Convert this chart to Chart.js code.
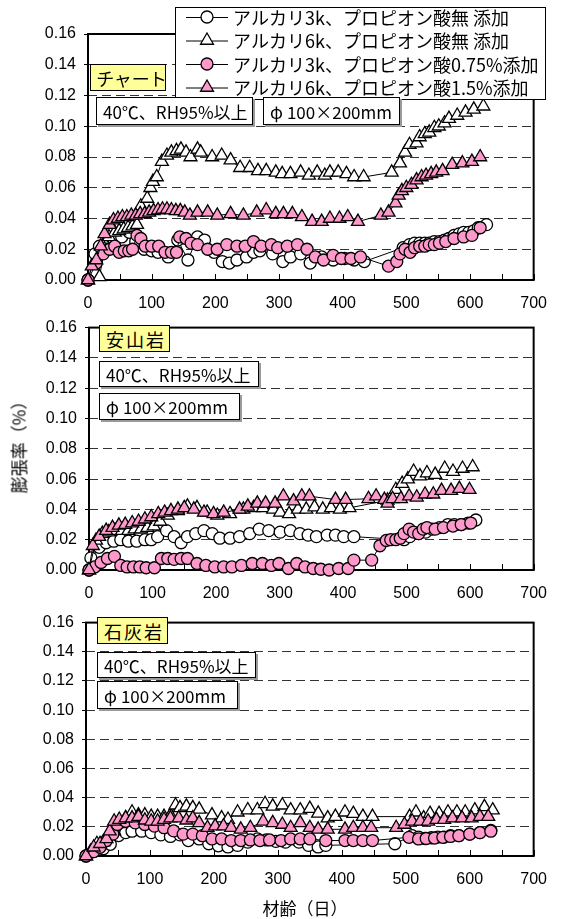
<!DOCTYPE html>
<html><head><meta charset="utf-8">
<script src="https://cdn.jsdelivr.net/npm/chart.js@4.4.1/dist/chart.umd.min.js"></script>
<style>
html,body{margin:0;padding:0;background:#fff;}
#wrap{position:relative;width:561px;height:919px;overflow:hidden;background:#fff;}
canvas{position:absolute;left:0;}
.box{position:absolute;background:#fff;border:1px solid #000;box-shadow:2px 2px 0 #9a9a9a;font-family:'Noto Sans CJK JP',sans-serif;font-size:17px;line-height:1;display:flex;align-items:center;padding-left:6px;box-sizing:border-box;white-space:nowrap;color:#000;}
.ybox{background:#ffff99;font-size:18px;letter-spacing:2px;font-feature-settings:"palt";box-shadow:none;border-width:1.5px;}
.phi{margin-right:4px;font-family:'Noto Sans CJK JP',sans-serif;}
.title{position:absolute;font-family:'Noto Sans CJK JP',sans-serif;font-size:17px;white-space:nowrap;line-height:1;color:#000;}
</style></head>
<body><div id="wrap">
<canvas id="c1" width="561" height="310" style="top:0px"></canvas>
<canvas id="c2" width="561" height="295" style="top:310px"></canvas>
<canvas id="c3" width="561" height="314" style="top:605px"></canvas>

<div class="box ybox" style="left:90px;top:64px;width:76px;height:27px;">チャート</div>
<div class="box" style="left:96px;top:97px;width:157px;height:28px;">40℃、RH95%以上</div>
<div class="box" style="left:263px;top:97px;width:137px;height:28px;"><span class="phi">φ</span>100×200mm</div>

<div class="box ybox" style="left:99px;top:325px;width:71px;height:27px;">安山岩</div>
<div class="box" style="left:99px;top:361px;width:160px;height:26px;">40℃、RH95%以上</div>
<div class="box" style="left:99px;top:393px;width:141px;height:27px;"><span class="phi">φ</span>100×200mm</div>

<div class="box ybox" style="left:97px;top:617px;width:71px;height:27px;">石灰岩</div>
<div class="box" style="left:97px;top:652px;width:159px;height:26px;">40℃、RH95%以上</div>
<div class="box" style="left:97px;top:681px;width:141px;height:28px;"><span class="phi">φ</span>100×200mm</div>

<div class="title" style="left:18px;top:443px;transform:translate(-50%,-50%) rotate(-90deg);">膨張率（%）</div>
<div class="title" style="left:305px;top:907px;transform:translate(-50%,-50%);">材齢（日）</div>
</div>
<script>
// ---------- labels ----------
const seriesLabels = ['アルカリ3k、プロピオン酸無 添加','アルカリ6k、プロピオン酸無 添加','アルカリ3k、プロピオン酸0.75%添加','アルカリ6k、プロピオン酸1.5%添加'];
const yTickLabels = ['0.00','0.02','0.04','0.06','0.08','0.10','0.12','0.14','0.16'];
const xTickLabels = ['0','100','200','300','400','500','600','700'];

// ---------- chert (チャート) ----------
const chertA_x = [0,11,18,29,41,53,65,75,88,100,110,126,141,157,172,183,198,211,222,234,249,260,270,290,306,318,334,349,367,385,403,418,434,495,505,513,521,529,536,544,552,560,567,575,583,590,598,606,613,626];
const chertA_y = [0,0.017,0.022,0.024,0.026,0.028,0.031,0.025,0.020,0.019,0.018,0.015,0.026,0.013,0.028,0.026,0.018,0.012,0.011,0.013,0.015,0.018,0.019,0.017,0.012,0.015,0.017,0.011,0.015,0.013,0.014,0.013,0.012,0.021,0.023,0.024,0.024,0.024,0.024,0.025,0.025,0.026,0.027,0.029,0.030,0.031,0.031,0.032,0.034,0.036];
const chertB_x = [0,18,26,33,42,49,56,63,70,77,83,93,98,102,108,116,124,131,139,146,154,161,172,177,195,210,224,239,254,267,280,295,305,318,334,347,360,372,380,393,406,418,433,477,490,498,505,516,521,529,536,544,551,560,567,580,593,606,621];
const chertB_y = [0,0.002,0.020,0.028,0.031,0.032,0.033,0.034,0.035,0.036,0.048,0.053,0.060,0.064,0.067,0.077,0.081,0.083,0.084,0.085,0.083,0.080,0.085,0.083,0.080,0.081,0.078,0.073,0.073,0.071,0.071,0.070,0.069,0.069,0.070,0.068,0.070,0.068,0.070,0.070,0.069,0.067,0.067,0.070,0.076,0.083,0.088,0.089,0.093,0.095,0.096,0.099,0.100,0.102,0.105,0.107,0.109,0.111,0.113];
const chertC_x = [0,13,24,34,42,49,57,64,70,77,83,90,100,111,121,131,139,144,154,162,172,188,203,218,234,247,260,272,288,298,313,329,344,357,370,385,398,413,428,472,485,490,498,506,513,521,529,536,544,552,562,575,590,603,616];
const chertC_y = [0,0.011,0.017,0.020,0.022,0.018,0.019,0.019,0.020,0.029,0.027,0.022,0.022,0.022,0.018,0.018,0.018,0.028,0.027,0.024,0.023,0.020,0.020,0.023,0.022,0.022,0.025,0.022,0.023,0.021,0.022,0.023,0.020,0.015,0.013,0.016,0.014,0.014,0.015,0.009,0.012,0.017,0.020,0.018,0.021,0.022,0.022,0.023,0.023,0.024,0.025,0.027,0.028,0.029,0.034];
const chertD_x = [0,6,13,20,26,34,40,47,54,61,68,75,82,89,96,103,110,117,124,131,138,145,152,160,172,188,203,224,244,265,280,295,307,321,336,352,367,380,395,408,424,460,472,483,488,493,500,508,516,524,531,539,547,557,572,588,603,616];
const chertD_y = [0,0.009,0.013,0.022,0.030,0.036,0.039,0.040,0.041,0.041,0.042,0.042,0.043,0.043,0.044,0.045,0.0455,0.046,0.046,0.0455,0.045,0.045,0.044,0.042,0.044,0.044,0.042,0.043,0.042,0.044,0.0455,0.043,0.043,0.043,0.041,0.038,0.038,0.040,0.040,0.041,0.038,0.042,0.044,0.050,0.055,0.058,0.060,0.062,0.065,0.067,0.068,0.069,0.070,0.071,0.075,0.076,0.077,0.080];

// ---------- andesite (安山岩) ----------
const andA_x = [0,3,16,27,39,50,62,75,88,98,108,122,134,145,155,168,181,194,206,222,237,253,268,283,301,317,332,345,358,375,388,401,417,496,505,519,530,540,552,565,575,586,597,609];
const andA_y = [0,0.008,0.015,0.018,0.019,0.020,0.019,0.019,0.020,0.020,0.022,0.026,0.022,0.018,0.022,0.024,0.026,0.024,0.021,0.021,0.022,0.024,0.027,0.026,0.025,0.026,0.024,0.023,0.022,0.023,0.023,0.022,0.022,0.020,0.022,0.024,0.025,0.027,0.028,0.030,0.030,0.030,0.031,0.033];
const andB_x = [0,11,21,31,41,52,62,72,82,92,102,112,124,140,155,170,186,202,222,243,259,274,290,301,315,329,342,355,368,381,395,410,470,483,493,502,511,521,532,545,560,573,588,604];
const andB_y = [0,0.0195,0.024,0.025,0.026,0.026,0.026,0.027,0.027,0.028,0.029,0.032,0.036,0.039,0.042,0.041,0.038,0.036,0.037,0.040,0.041,0.041,0.040,0.038,0.037,0.040,0.040,0.0415,0.040,0.041,0.040,0.041,0.046,0.053,0.057,0.060,0.065,0.062,0.064,0.063,0.067,0.065,0.067,0.068];
const andC_x = [0,9,19,29,40,50,60,70,80,90,103,114,124,134,145,155,170,184,198,212,225,240,257,273,287,299,314,327,340,353,365,378,393,408,417,445,458,468,475,483,490,496,504,511,519,526,532,545,558,573,586,601];
const andC_y = [0,0.002,0.005,0.0076,0.009,0.003,0.002,0.002,0.002,0.0015,0.0015,0.0076,0.0076,0.007,0.0076,0.0076,0.0043,0.003,0.002,0.002,0.002,0.003,0.0043,0.0043,0.003,0.0043,0.001,0.0043,0.002,0.001,0.0005,0,0.001,0.001,0.0065,0.0065,0.016,0.0195,0.020,0.020,0.021,0.024,0.027,0.025,0.024,0.027,0.028,0.027,0.028,0.029,0.030,0.031];
const andD_x = [0,6,16,27,37,47,57,68,78,88,98,109,119,129,140,150,165,181,196,212,237,250,265,278,293,306,322,335,347,388,404,440,452,465,470,478,491,504,516,529,542,555,570,583,599];
const andD_y = [0,0.016,0.022,0.026,0.028,0.0295,0.030,0.031,0.032,0.0335,0.035,0.037,0.038,0.039,0.040,0.041,0.040,0.038,0.037,0.038,0.040,0.042,0.044,0.044,0.044,0.0487,0.0455,0.0487,0.0487,0.0465,0.0465,0.047,0.0487,0.0465,0.044,0.047,0.047,0.0487,0.048,0.050,0.050,0.0524,0.0524,0.0537,0.053];

// ---------- limestone (石灰岩) ----------
const limA_x = [0,12,27,38,51,62,72,87,102,117,132,147,160,177,192,207,222,237,253,268,282,297,312,333,348,363,375,483,510,520,530,540,550,560,570,583,600,616,633];
const limA_y = [0,0.003,0.005,0.008,0.014,0.016,0.017,0.017,0.016,0.0145,0.0134,0.0145,0.0106,0.0117,0.0084,0.007,0.0062,0.0073,0.0095,0.0117,0.011,0.010,0.0095,0.0095,0.0073,0.0062,0.0073,0.0084,0.014,0.013,0.012,0.0125,0.013,0.013,0.014,0.014,0.015,0.016,0.0175];
const limB_x = [0,7,17,27,37,44,52,62,72,82,92,102,112,122,132,140,147,157,167,177,197,212,222,237,253,268,280,292,307,320,335,350,363,378,390,405,418,433,448,506,516,528,538,552,566,580,593,608,623,636];
const limB_y = [0,0.003,0.0084,0.0095,0.015,0.017,0.022,0.026,0.030,0.028,0.028,0.027,0.027,0.027,0.028,0.0348,0.033,0.034,0.033,0.032,0.028,0.026,0.025,0.030,0.0315,0.0315,0.0358,0.034,0.0348,0.0314,0.0314,0.0325,0.0292,0.026,0.027,0.030,0.029,0.027,0.027,0.027,0.030,0.026,0.029,0.029,0.030,0.030,0.030,0.0314,0.0337,0.0314];
const limC_x = [0,12,22,32,42,49,62,77,92,107,122,137,152,167,182,197,212,227,242,257,272,287,305,320,335,350,375,405,418,433,448,505,520,532,545,558,570,583,600,616,633];
const limC_y = [0,0.003,0.006,0.0106,0.015,0.0216,0.0238,0.0227,0.0216,0.0205,0.0194,0.0172,0.015,0.015,0.0139,0.0117,0.0117,0.0106,0.0106,0.011,0.0106,0.011,0.0106,0.0117,0.0117,0.0117,0.0106,0.0106,0.0106,0.0106,0.0106,0.0128,0.0117,0.012,0.0123,0.0128,0.0134,0.0139,0.015,0.016,0.017];
const limD_x = [0,12,22,32,37,44,52,62,72,82,92,102,112,122,132,145,157,167,177,190,202,215,227,242,257,277,292,307,320,335,350,363,378,405,418,433,446,485,498,510,523,535,548,560,573,588,603,616,629];
const limD_y = [0,0.006,0.0084,0.0117,0.017,0.0238,0.025,0.026,0.026,0.027,0.0245,0.0238,0.0238,0.025,0.026,0.026,0.0245,0.026,0.0227,0.0194,0.0205,0.0205,0.0194,0.0183,0.0194,0.0238,0.0227,0.0216,0.0194,0.0227,0.0194,0.0183,0.0183,0.0183,0.0194,0.0194,0.0194,0.0194,0.0216,0.0238,0.0238,0.0238,0.0249,0.025,0.026,0.026,0.026,0.027,0.027];

// ---------- styles ----------
const PINK = '#ff99cc';
const markStyles = [
  {pointStyle:'circle',   radius:6,   fill:'#ffffff'},
  {pointStyle:'triangle', radius:7.5, fill:'#ffffff'},
  {pointStyle:'circle',   radius:6,   fill:PINK},
  {pointStyle:'triangle', radius:7.5, fill:PINK}
];
Chart.defaults.font.family = "'Liberation Sans', Arial, sans-serif";
Chart.defaults.font.size = 16;
Chart.defaults.color = '#000';

function makeDataset(xs, ys, i){
  const s = markStyles[i];
  return {
    label: seriesLabels[i],
    data: xs.map((x,k)=>({x:x, y:ys[k]})),
    showLine:true, fill:false, tension:0,
    borderColor:'#000', borderWidth:1,
    pointStyle:s.pointStyle, pointRadius:s.radius, pointHoverRadius:s.radius,
    pointBackgroundColor:s.fill, pointBorderColor:'#000', pointBorderWidth:1.3,
    order: 4 - i, clip:false
  };
}

function drawMark(ctx, style, r, x, y){
  ctx.beginPath();
  if(style === 'circle'){
    ctx.arc(x, y, r, 0, Math.PI*2);
  } else {
    let rad = 0;
    ctx.moveTo(x + Math.sin(rad)*r, y - Math.cos(rad)*r);
    rad += Math.PI*2/3;
    ctx.lineTo(x + Math.sin(rad)*r, y - Math.cos(rad)*r);
    rad += Math.PI*2/3;
    ctx.lineTo(x + Math.sin(rad)*r, y - Math.cos(rad)*r);
    ctx.closePath();
  }
  ctx.fill(); ctx.stroke();
}

const framePlugin = {
  id:'frame',
  beforeDatasetsDraw(chart){
    const {ctx, chartArea:a} = chart;
    const xs = chart.scales.x;
    ctx.save();
    ctx.strokeStyle = '#000';
    ctx.lineWidth = 1;
    ctx.beginPath();
    xs.ticks.forEach(t=>{
      const px = Math.round(xs.getPixelForValue(t.value)) + 0.5;
      ctx.moveTo(px, a.bottom);
      ctx.lineTo(px, a.bottom - 6);
    });
    ctx.stroke();
    ctx.lineWidth = 2;
    ctx.strokeRect(a.left, a.top, a.right - a.left, a.bottom - a.top);
    ctx.restore();
  }
};

const legendPlugin = {
  id:'boxLegend',
  afterDraw(chart){
    const ctx = chart.ctx;
    ctx.save();
    ctx.fillStyle = '#fff';
    ctx.fillRect(175, 7, 371, 93);
    ctx.strokeStyle = '#000';
    ctx.lineWidth = 1;
    ctx.strokeRect(175.5, 7.5, 370, 92);
    chart.data.datasets.forEach((ds, i)=>{
      const y = 17 + i*23.5;
      ctx.strokeStyle = '#000';
      ctx.lineWidth = 1;
      ctx.beginPath();
      ctx.moveTo(186, y + 0.5); ctx.lineTo(228, y + 0.5);
      ctx.stroke();
      ctx.fillStyle = ds.pointBackgroundColor;
      ctx.lineWidth = 1.3;
      drawMark(ctx, ds.pointStyle, ds.pointRadius, 207, y);
      ctx.fillStyle = '#000';
      ctx.font = "18px 'Noto Sans CJK JP'";
      ctx.textBaseline = 'middle';
      ctx.textAlign = 'left';
      ctx.fillText(ds.label, 233, y + 1);
    });
    ctx.restore();
  }
};

function makeChart(id, H, area, sets, extra){
  const ctx = document.getElementById(id).getContext('2d');
  return new Chart(ctx, {
    type:'line',
    data:{datasets: sets},
    options:{
      responsive:false, animation:false, events:[],
      layout:{padding:{top:area.top, right:561 - area.right, left:0, bottom:0}},
      plugins:{legend:{display:false}, tooltip:{enabled:false}},
      scales:{
        x:{type:'linear', min:0, max:700,
           ticks:{stepSize:50, autoSkip:false, maxRotation:0, minRotation:0, padding:14, color:'#000',
                  callback:(v,i)=> (i % 2 === 0 ? xTickLabels[i/2] : '')},
           grid:{display:false, drawTicks:false},
           border:{display:false},
           afterFit:(s)=>{ s.height = H - area.bottom; }},
        y:{type:'linear', min:0, max:0.16,
           ticks:{stepSize:0.02, padding:8, color:'#000', callback:(v,i)=>yTickLabels[i]},
           grid:{color:'#333', lineWidth:1, drawTicks:true, tickLength:4, tickColor:'#000', tickWidth:1},
           border:{display:false, dash:[9,5]},
           afterFit:(s)=>{ s.width = area.left; }}
      }
    },
    plugins: extra
  });
}

makeChart('c1', 310, {top:34, bottom:280, left:88, right:543}, [
  makeDataset(chertA_x, chertA_y, 0), makeDataset(chertB_x, chertB_y, 1),
  makeDataset(chertC_x, chertC_y, 2), makeDataset(chertD_x, chertD_y, 3)
], [framePlugin, legendPlugin]);

makeChart('c2', 295, {top:12, bottom:260, left:89, right:544}, [
  makeDataset(andA_x, andA_y, 0), makeDataset(andB_x, andB_y, 1),
  makeDataset(andC_x, andC_y, 2), makeDataset(andD_x, andD_y, 3)
], [framePlugin]);

makeChart('c3', 314, {top:10, bottom:251, left:86, right:551}, [
  makeDataset(limA_x, limA_y, 0), makeDataset(limB_x, limB_y, 1),
  makeDataset(limC_x, limC_y, 2), makeDataset(limD_x, limD_y, 3)
], [framePlugin]);
</script>
</body></html>
